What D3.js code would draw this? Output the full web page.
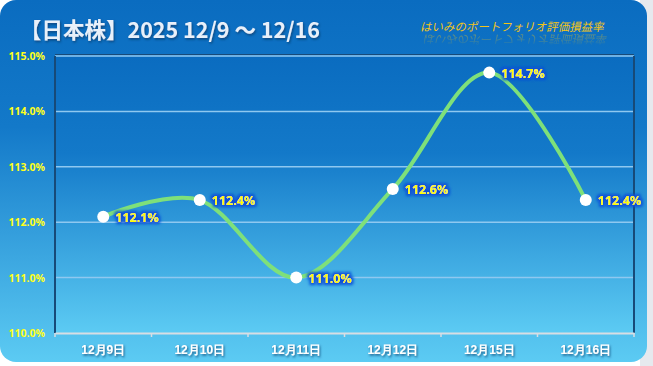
<!DOCTYPE html>
<html>
<head>
<meta charset="utf-8">
<script src="https://cdn.jsdelivr.net/npm/d3@7"></script>
<style>
  body { margin: 0; background: #fff; }
  svg { display: block; font-family: "Noto Sans CJK JP", "Open Sans", sans-serif; }
</style>
</head>
<body>
<div id="chart"></div>
<script>
var dates = ["12月9日", "12月10日", "12月11日", "12月12日", "12月15日", "12月16日"];
var values = [112.1, 112.4, 111.0, 112.6, 114.7, 112.4];
var yTicks = [110, 111, 112, 113, 114, 115];

var W = 653, H = 366;
var plot = {left: 55, right: 634, top: 56, bottom: 333};

var svg = d3.select("#chart").append("svg")
    .attr("width", W)
    .attr("height", H);

var defs = svg.append("defs");
var bg = defs.append("linearGradient").attr("id", "bg")
    .attr("x1", 0).attr("y1", 0).attr("x2", 0).attr("y2", 1);
bg.append("stop").attr("offset", "0%").attr("stop-color", "#0a6cc0");
bg.append("stop").attr("offset", "35%").attr("stop-color", "#1379c9");
bg.append("stop").attr("offset", "100%").attr("stop-color", "#5ccbf3");

// fade for the subtitle reflection (local coords of the reflected text)
var fade = defs.append("linearGradient").attr("id", "fade")
    .attr("gradientUnits", "userSpaceOnUse")
    .attr("x1", 0).attr("y1", -12).attr("x2", 0).attr("y2", 1);
fade.append("stop").attr("offset", "0%").attr("stop-color", "#fff").attr("stop-opacity", 0);
fade.append("stop").attr("offset", "100%").attr("stop-color", "#fff").attr("stop-opacity", 1);
defs.append("mask").attr("id", "fademask")
    .attr("maskUnits", "userSpaceOnUse")
    .attr("x", -20).attr("y", -14).attr("width", 240).attr("height", 18)
    .append("rect").attr("x", -20).attr("y", -14).attr("width", 240).attr("height", 18)
    .attr("fill", "url(#fade)");

var glow = defs.append("filter").attr("id", "glow")
    .attr("x", "-20%").attr("y", "-40%").attr("width", "140%").attr("height", "180%");
glow.append("feMorphology").attr("in", "SourceAlpha").attr("operator", "dilate").attr("radius", 1.8).attr("result", "d");
glow.append("feGaussianBlur").attr("in", "d").attr("stdDeviation", 1.4).attr("result", "b");
glow.append("feFlood").attr("flood-color", "#0b4fd6").attr("flood-opacity", 1);
glow.append("feComposite").attr("in2", "b").attr("operator", "in").attr("result", "g");
var gm = glow.append("feMerge");
gm.append("feMergeNode").attr("in", "g");
gm.append("feMergeNode").attr("in", "SourceGraphic");

var shadow = defs.append("filter").attr("id", "shadow")
    .attr("x", "-10%").attr("y", "-30%").attr("width", "120%").attr("height", "160%");
shadow.append("feDropShadow").attr("dx", 1).attr("dy", 1.5).attr("stdDeviation", 1)
    .attr("flood-color", "#0a3a6a").attr("flood-opacity", 0.8);

// right grey strip
svg.append("rect").attr("x", 640).attr("y", 0).attr("width", 13).attr("height", H).attr("fill", "#e6e9ee");

// panel
svg.append("rect")
    .attr("x", 0).attr("y", 0)
    .attr("width", 647).attr("height", 362)
    .attr("rx", 16).attr("ry", 16)
    .attr("fill", "url(#bg)");

var x = d3.scaleBand()
    .domain(dates)
    .range([plot.left, plot.right]);

var y = d3.scaleLinear()
    .domain([110, 115])
    .range([plot.bottom, plot.top]);

// plot area
svg.append("rect")
    .attr("x", plot.left).attr("y", plot.top)
    .attr("width", plot.right - plot.left).attr("height", plot.bottom - plot.top)
    .attr("fill", "url(#bg)");

// gridlines
svg.append("g")
    .selectAll("line")
    .data(yTicks.slice(1))
    .enter().append("line")
    .attr("x1", plot.left).attr("x2", plot.right)
    .attr("y1", function(d) { return y(d); })
    .attr("y2", function(d) { return y(d); })
    .attr("stroke", "#8fc8f0")
    .attr("stroke-width", 1.5);

// borders
svg.append("line").attr("x1", plot.left).attr("x2", plot.left)
    .attr("y1", plot.top).attr("y2", plot.bottom)
    .attr("stroke", "#174a78").attr("stroke-width", 2);
svg.append("line").attr("x1", plot.right).attr("x2", plot.right)
    .attr("y1", plot.top).attr("y2", plot.bottom)
    .attr("stroke", "#174a78").attr("stroke-width", 2);
svg.append("line").attr("x1", plot.left).attr("x2", plot.right)
    .attr("y1", plot.top - 1.5).attr("y2", plot.top - 1.5)
    .attr("stroke", "#174a78").attr("stroke-width", 1);

// x axis
var xAxis = svg.append("g")
    .attr("transform", "translate(0," + plot.bottom + ")")
    .call(d3.axisBottom(x).tickSize(0).tickPadding(12));
xAxis.select(".domain").attr("stroke", "#d8dde3").attr("stroke-width", 2);
xAxis.selectAll("text")
    .attr("fill", "#ffffff")
    .attr("font-size", 12)
    .attr("font-weight", "bold")
    .attr("filter", "url(#shadow)");
svg.append("g")
    .selectAll("line")
    .data(d3.range(dates.length + 1))
    .enter().append("line")
    .attr("x1", function(i) { return plot.left + i * x.step(); })
    .attr("x2", function(i) { return plot.left + i * x.step(); })
    .attr("y1", plot.bottom).attr("y2", plot.bottom + 4)
    .attr("stroke", "#d8dde3").attr("stroke-width", 1.5);

// y axis labels
svg.append("g")
    .selectAll("text")
    .data(yTicks)
    .enter().append("text")
    .attr("x", plot.left - 10)
    .attr("y", function(d) { return y(d) + 4; })
    .attr("text-anchor", "end")
    .attr("fill", "#ffff1a")
    .attr("font-size", 10.5)
    .attr("font-weight", "bold")
    .attr("font-family", "Open Sans, sans-serif")
    .text(function(d) { return d.toFixed(1) + "%"; });

// line
var pts = values.map(function(v, i) { return [x(dates[i]) + x.bandwidth() / 2, y(v)]; });
svg.append("path")
    .attr("d", d3.line().curve(d3.curveCatmullRom.alpha(0))(pts))
    .attr("fill", "none")
    .attr("stroke", "#7ee07a")
    .attr("stroke-width", 4);

// markers
svg.append("g")
    .selectAll("circle")
    .data(pts)
    .enter().append("circle")
    .attr("cx", function(d) { return d[0]; })
    .attr("cy", function(d) { return d[1]; })
    .attr("r", 6)
    .attr("fill", "#ffffff");

// data labels
svg.append("g")
    .selectAll("text")
    .data(values)
    .enter().append("text")
    .attr("x", function(d, i) { return pts[i][0] + 12; })
    .attr("y", function(d, i) { return pts[i][1] + 5; })
    .attr("fill", "#ffff00")
    .attr("font-size", 12.5)
    .attr("font-weight", "bold")
    .attr("font-family", "Open Sans, sans-serif")
    .attr("filter", "url(#glow)")
    .text(function(d) { return d.toFixed(1) + "%"; });

// title
svg.append("text")
    .attr("x", 20).attr("y", 38)
    .attr("fill", "#e8f0fa")
    .attr("font-size", 21.5)
    .attr("font-weight", "bold")
    .attr("filter", "url(#shadow)")
    .text("【日本株】2025 12/9 〜 12/16");

// subtitle with faint reflection
var sub = "はいみのポートフォリオ評価損益率";
svg.append("text")
    .attr("x", 0).attr("y", 0)
    .attr("transform", "translate(420,31) skewX(-12)")
    .attr("fill", "#f2c419")
    .attr("font-size", 11.5)
    .text(sub);
svg.append("g")
    .attr("transform", "translate(0,66) scale(1,-1)")
    .append("text")
    .attr("x", 0).attr("y", 0)
    .attr("transform", "translate(424,31) skewX(12)")
    .attr("fill", "#f2c419")
    .attr("opacity", 0.4)
    .attr("font-size", 11.5)
    .attr("mask", "url(#fademask)")
    .text(sub);
</script>
</body>
</html>
